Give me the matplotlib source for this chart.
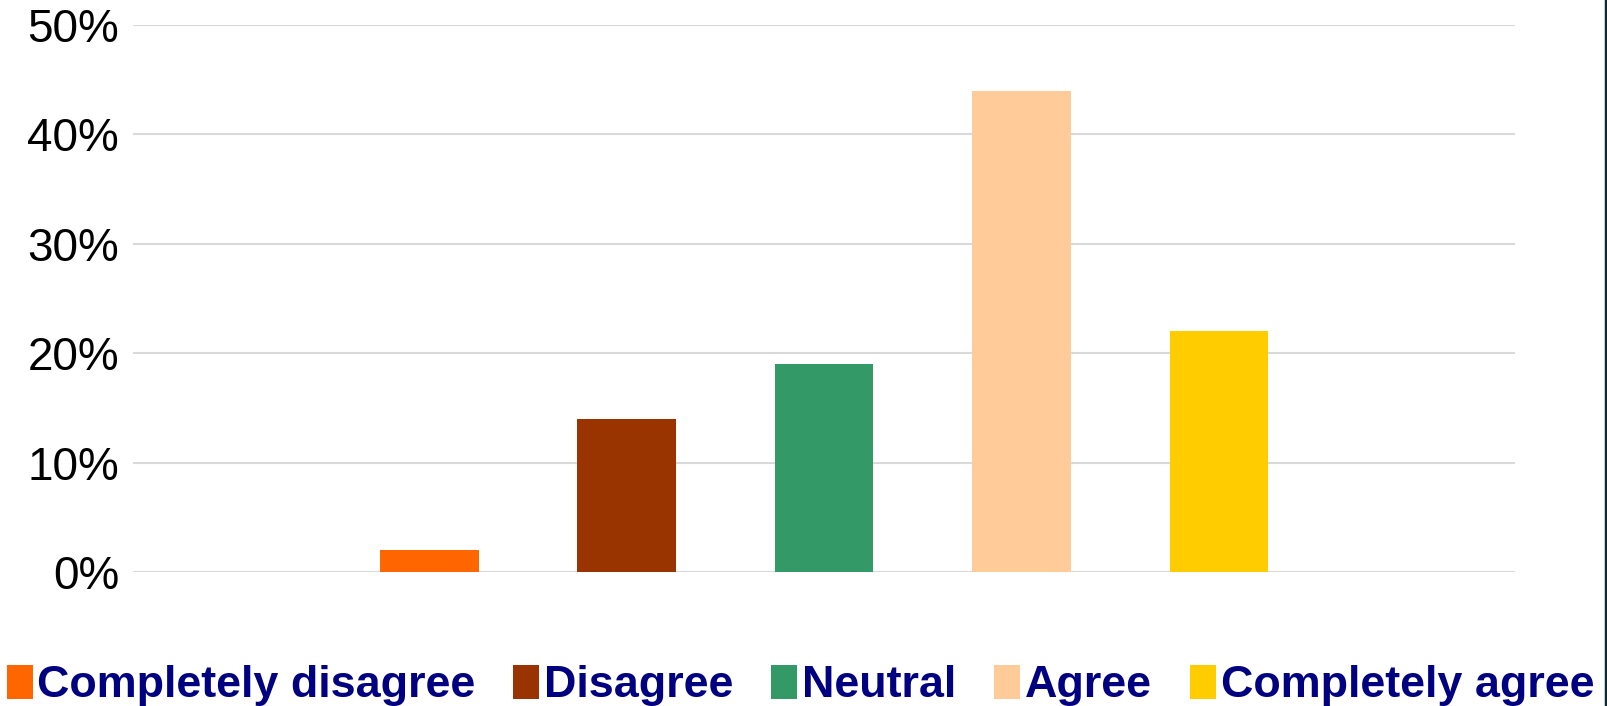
import matplotlib
matplotlib.use("Agg")
from matplotlib import pyplot as plt
from matplotlib.patches import Patch
from matplotlib.ticker import PercentFormatter

# data
categories = ["Completely disagree", "Disagree", "Neutral", "Agree", "Completely agree"]
shares = [0.02, 0.14, 0.19, 0.44, 0.22]
colors = ["#ff6600", "#993300", "#339966", "#ffcc99", "#ffcc00"]
positions = [1, 2, 3, 4, 5]
yticks = [0, 0.1, 0.2, 0.3, 0.4, 0.5]

plt.rcParams["font.family"] = ["Liberation Sans", "DejaVu Sans"]

fig = plt.figure(figsize=(16.07, 7.06), dpi=100)
ax = fig.add_axes([0.0828, 0.1898, 0.8600, 0.7748])

ax.bar(positions, shares, width=0.5, color=colors, zorder=3)

ax.set_xlim(-0.5, 6.5)
ax.set_ylim(0, 0.5)
ax.set_yticks(yticks)
ax.yaxis.set_major_formatter(PercentFormatter(1.0, decimals=0))
ax.set_xticks([])
ax.tick_params(axis="y", length=0, pad=10, labelsize=33, labelcolor="black")
ax.grid(axis="y", color="#d9d9d9", linewidth=1.5, zorder=0)
for s in ax.spines.values():
  s.set_visible(False)

handles = [Patch(facecolor=c, edgecolor="none") for c in colors]
leg = fig.legend(handles, categories, loc="center", bbox_to_anchor=(0.498, 0.029),
                 ncol=5, frameon=False, handlelength=0.58, handleheight=0.78,
                 handletextpad=0.1, columnspacing=0.85, borderpad=0,
                 prop={"size": 32.3, "weight": "bold"})
for t in leg.get_texts():
  t.set_color("#000080")

# thin dark border line at right edge
fig.add_artist(plt.Line2D([0.9991, 0.9991], [0, 1], color="#0a2a35", linewidth=2.5,
                          transform=fig.transFigure))

fig.savefig("out.png", dpi=100)
